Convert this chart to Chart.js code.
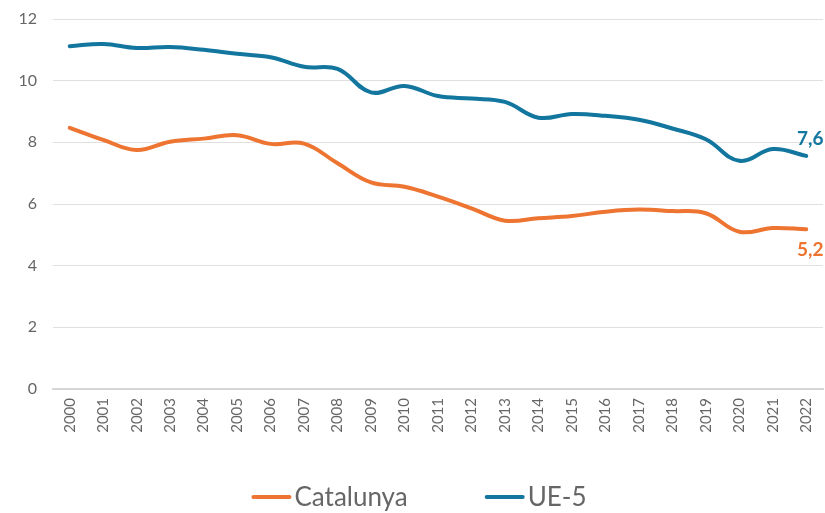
<!DOCTYPE html>
<html lang="ca">
<head>
<meta charset="UTF-8">
<title>Catalunya vs UE-5</title>
<script src="https://cdn.jsdelivr.net/npm/chart.js"></script>
<style>
html, body { margin: 0; padding: 0; background: #fff; }
#wrap { width: 825px; height: 513px; }
</style>
</head>
<body>
<div id="wrap"><canvas id="grafic" width="825" height="513"></canvas></div>
<script>
// anys i series llegides del gràfic
const years = ['2000','2001','2002','2003','2004','2005','2006','2007','2008','2009','2010',
  '2011','2012','2013','2014','2015','2016','2017','2018','2019','2020','2021','2022'];
const catalunya = [8.47, 8.08, 7.75, 8.02, 8.12, 8.23, 7.95, 7.96, 7.32, 6.70, 6.56,
  6.24, 5.86, 5.46, 5.54, 5.61, 5.75, 5.82, 5.77, 5.70, 5.10, 5.22, 5.18];
const ue5 = [11.12, 11.19, 11.06, 11.09, 11.00, 10.87, 10.76, 10.45, 10.38, 9.62, 9.83,
  9.50, 9.42, 9.31, 8.80, 8.92, 8.86, 8.73, 8.45, 8.10, 7.40, 7.78, 7.56];
const yTicks = [0, 2, 4, 6, 8, 10, 12];

const ORANGE = '#ED7431';
const BLUE = '#12769F';
const TEXT = '#666666';
const FONT = 'Lato, "Open Sans", sans-serif';

// etiqueta del darrer valor de cada serie
const endLabels = {
  id: 'endLabels',
  afterDatasetsDraw(chart) {
    const ctx = chart.ctx;
    ctx.save();
    ctx.font = 'bold 19px ' + FONT;
    ctx.textAlign = 'center';
    chart.data.datasets.forEach((ds, i) => {
      const meta = chart.getDatasetMeta(i);
      const pt = meta.data[meta.data.length - 1];
      const v = ds.data[ds.data.length - 1];
      const txt = v.toFixed(1).replace('.', ',');
      ctx.fillStyle = ds.borderColor;
      if (ds.labelBelow) {
        ctx.textBaseline = 'top';
        ctx.fillText(txt, pt.x + 4, pt.y + 11);
      } else {
        ctx.textBaseline = 'bottom';
        ctx.fillText(txt, pt.x + 4, pt.y - 8);
      }
    });
    ctx.restore();
  }
};

// llegenda inferior
const bottomLegend = {
  id: 'bottomLegend',
  afterDraw(chart) {
    const ctx = chart.ctx;
    const sets = chart.data.datasets;
    const lineW = 40, gapText = 3, gapItem = 77;
    ctx.save();
    ctx.font = '26px ' + FONT;
    ctx.textBaseline = 'middle';
    let total = 0;
    sets.forEach((ds, i) => {
      total += lineW + gapText + ctx.measureText(ds.label).width + (i > 0 ? gapItem : 0);
    });
    let x = 419 - total / 2;
    const y = 497;
    sets.forEach(ds => {
      ctx.strokeStyle = ds.borderColor;
      ctx.lineWidth = 4;
      ctx.lineCap = 'round';
      ctx.beginPath();
      ctx.moveTo(x + 2, y);
      ctx.lineTo(x + lineW - 2, y);
      ctx.stroke();
      ctx.fillStyle = TEXT;
      ctx.fillText(ds.label, x + lineW + gapText, y + 1);
      x += lineW + gapText + ctx.measureText(ds.label).width + gapItem;
    });
    ctx.restore();
  }
};

function noPad(scale) {
  scale.paddingTop = 0;
  scale.paddingRight = 0;
  scale.paddingLeft = 0;
  scale.paddingBottom = 0;
}

new Chart(document.getElementById('grafic'), {
  type: 'line',
  data: {
    labels: years,
    datasets: [
      { label: 'Catalunya', data: catalunya, borderColor: ORANGE, labelBelow: true },
      { label: 'UE-5', data: ue5, borderColor: BLUE, labelBelow: false }
    ]
  },
  options: {
    responsive: false,
    animation: false,
    layout: { padding: { top: 19, right: 2, bottom: 78, left: 0 } },
    elements: {
      line: { borderWidth: 4, tension: 0.4, borderCapStyle: 'round', fill: false },
      point: { radius: 0, hoverRadius: 0 }
    },
    plugins: {
      legend: { display: false },
      tooltip: { enabled: false }
    },
    scales: {
      x: {
        offset: true,
        grid: { display: false, drawTicks: false },
        border: { display: true, color: '#d6d6d6', width: 2 },
        ticks: {
          color: TEXT,
          font: { family: FONT, size: 15 },
          minRotation: 90,
          maxRotation: 90,
          padding: 9,
          autoSkip: false
        },
        afterFit(scale) { scale.height = 46; noPad(scale); }
      },
      y: {
        min: 0,
        max: 12,
        afterBuildTicks(scale) { scale.ticks = yTicks.map(v => ({ value: v })); },
        grid: { color: '#e0e0e0', lineWidth: 1, drawTicks: false },
        border: { display: false },
        ticks: {
          color: TEXT,
          font: { family: FONT, size: 16 },
          padding: 16
        },
        afterFit(scale) { scale.width = 53; noPad(scale); }
      }
    }
  },
  plugins: [endLabels, bottomLegend]
});
</script>
</body>
</html>
